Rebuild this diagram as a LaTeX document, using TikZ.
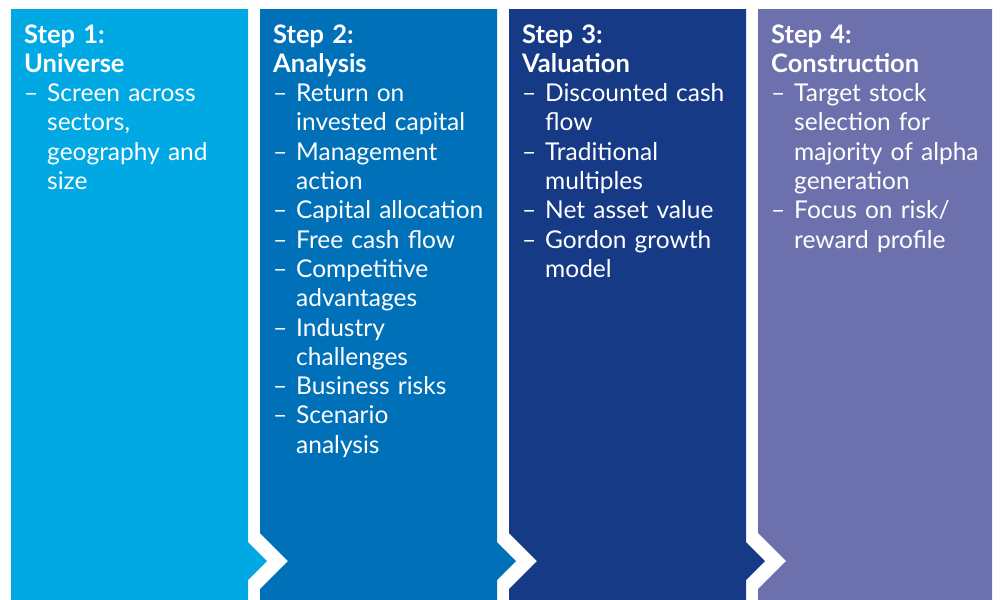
\documentclass[tikz,border=0pt]{standalone}
\usepackage{fontspec}
\setmainfont{Lato}
\definecolor{stepone}{HTML}{00A9E3}
\definecolor{steptwo}{HTML}{0070B8}
\definecolor{stepthree}{HTML}{163A86}
\definecolor{stepfour}{HTML}{6C71AD}
\newcommand\stepitem[1]{\par\noindent\hangindent=23pt\hangafter=1\makebox[23pt][l]{--}#1\par}
\newcommand\stephead[1]{{\fontsize{25.5}{29.3}\selectfont\bfseries #1}}
\tikzset{
  steptext/.style={anchor=base west, inner sep=0pt, text width=225pt, align=left,
    text=white, font=\fontsize{24.5}{29.3}\selectfont},
}
\begin{document}
\begin{tikzpicture}[x=1pt,y=-1pt]
    \useasboundingbox (0,0) rectangle (1002,600);
    \fill[stepone] (11,9) -- (248,9) -- (248,542) -- (267,561) -- (248,580) -- (248,600) -- (11,600) -- cycle;
    \fill[steptwo] (260,9) -- (497,9) -- (497,542) -- (516,561) -- (497,580) -- (497,600) -- (260,600) -- (260,589) -- (288,561) -- (260,533) -- cycle;
    \fill[stepthree] (509,9) -- (746,9) -- (746,542) -- (765,561) -- (746,580) -- (746,600) -- (509,600) -- (509,589) -- (537,561) -- (509,533) -- cycle;
    \fill[stepfour] (758,9) -- (992,9) -- (992,600) -- (758,600) -- (758,589) -- (786,561) -- (758,533) -- cycle;
    \node[steptext] (universe) at (24,43) {\stephead{Step 1:\newline Universe}
      \stepitem{Screen across\newline sectors,\newline geography and\newline size}};
    \node[steptext] (analysis) at (273,43) {\stephead{Step 2:\newline Analysis}
      \stepitem{Return on\newline invested capital}
      \stepitem{Management\newline action}
      \stepitem{Capital allocation}
      \stepitem{Free cash flow}
      \stepitem{Competitive\newline advantages}
      \stepitem{Industry\newline challenges}
      \stepitem{Business risks}
      \stepitem{Scenario\newline analysis}};
    \node[steptext] (valuation) at (522,43) {\stephead{Step 3:\newline Valuation}
      \stepitem{Discounted cash\newline flow}
      \stepitem{Traditional\newline multiples}
      \stepitem{Net asset value}
      \stepitem{Gordon growth\newline model}};
    \node[steptext] (construction) at (771,43) {\stephead{Step 4:\newline Construction}
      \stepitem{Target stock\newline selection for\newline majority of alpha\newline generation}
      \stepitem{Focus on risk/\newline reward profile}};
  \end{tikzpicture}
\end{document}
